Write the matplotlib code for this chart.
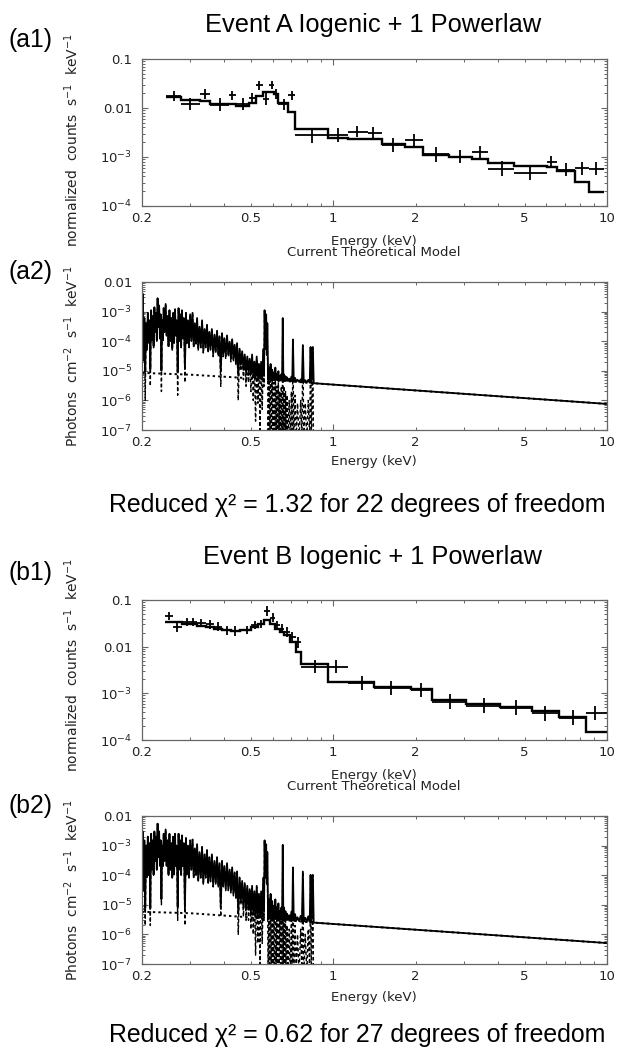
import numpy as np
import matplotlib
matplotlib.use("Agg")
import matplotlib.pyplot as plt
from matplotlib.ticker import FixedLocator, FixedFormatter, NullFormatter, LogLocator

W, H, DPI = 619, 1053, 100

# ---------------- Panel a1 : Event A folded counts ----------------
a1_edges = [0.245, 0.277, 0.325, 0.355, 0.415, 0.44, 0.49, 0.522, 0.552, 0.582,
            0.607, 0.630, 0.685, 0.725, 0.96, 1.133, 1.337, 1.50, 1.83, 2.126,
            2.64, 3.22, 3.68, 4.56, 6.04, 6.56, 7.62, 8.56, 9.77]
a1_energy = [0.261, 0.300, 0.339, 0.384, 0.427, 0.466, 0.506, 0.537, 0.567, 0.596,
             0.618, 0.658, 0.706, 0.835, 1.036, 1.222, 1.391, 1.658, 1.97, 2.37,
             2.91, 3.43, 4.12, 5.22, 6.25, 7.1, 8.1, 9.1]
a1_counts = [0.0175, 0.0121, 0.019, 0.0117, 0.018, 0.0122, 0.016, 0.0288, 0.0153, 0.0295,
             0.0194, 0.0118, 0.018, 0.00275, 0.00284, 0.00331, 0.00306, 0.00178, 0.00218, 0.00113,
             0.00102, 0.00128, 0.00058, 0.00048, 0.00078, 0.00055, 0.00059, 0.00058]
a1_err_dex = [0.11, 0.12, 0.10, 0.13, 0.10, 0.12, 0.10, 0.09, 0.12, 0.09,
              0.10, 0.12, 0.10, 0.15, 0.14, 0.12, 0.13, 0.14, 0.13, 0.15,
              0.14, 0.12, 0.15, 0.15, 0.12, 0.13, 0.13, 0.13]
a1_model = [0.0165, 0.0148, 0.0142, 0.0122, 0.0122, 0.0112, 0.0125, 0.0175, 0.021, 0.021,
            0.019, 0.0125, 0.0082, 0.0038, 0.0025, 0.00235, 0.00235, 0.0018, 0.0016, 0.00112,
            0.00101, 0.00092, 0.00076, 0.00066, 0.00062, 0.00052, 0.00031, 0.00019]

# ---------------- Panel b1 : Event B folded counts ----------------
b1_edges = [0.242, 0.260, 0.280, 0.300, 0.318, 0.342, 0.367, 0.393, 0.422, 0.458,
            0.499, 0.531, 0.560, 0.587, 0.612, 0.636, 0.663, 0.693, 0.728, 0.76,
            0.96, 1.133, 1.41, 1.92, 2.30, 3.06, 4.05, 5.3, 6.68, 8.4, 10.0]
b1_energy = [0.251, 0.269, 0.291, 0.308, 0.329, 0.355, 0.379, 0.408, 0.437, 0.482,
             0.516, 0.546, 0.574, 0.600, 0.624, 0.649, 0.678, 0.708, 0.745, 0.855,
             1.026, 1.273, 1.631, 2.09, 2.68, 3.55, 4.64, 5.94, 7.5, 9.05]
b1_counts = [0.046, 0.026, 0.034, 0.034, 0.032, 0.030, 0.027, 0.0225, 0.0217, 0.023,
             0.029, 0.031, 0.058, 0.042, 0.029, 0.0245, 0.0205, 0.016, 0.0124, 0.0037,
             0.0037, 0.0017, 0.00129, 0.00118, 0.00066, 0.00054, 0.00049, 0.00037, 0.0003, 0.00037]
b1_err_dex = [0.09, 0.10, 0.08, 0.08, 0.08, 0.09, 0.09, 0.10, 0.10, 0.09,
              0.09, 0.09, 0.10, 0.09, 0.09, 0.09, 0.10, 0.10, 0.12, 0.14,
              0.14, 0.15, 0.15, 0.14, 0.16, 0.16, 0.16, 0.16, 0.16, 0.15]
b1_model = [0.034, 0.033, 0.031, 0.030, 0.028, 0.026, 0.024, 0.0224, 0.022, 0.0224,
            0.026, 0.031, 0.038, 0.030, 0.024, 0.021, 0.0175, 0.0124, 0.0075, 0.0042,
            0.00174, 0.00174, 0.0014, 0.00125, 0.00072, 0.0006, 0.00051, 0.00041, 0.00031, 0.000148]

# ---------------- Panels a2 / b2 : theoretical model ----------------
# line-component vertices (energy keV)
forest_E = [
    0.2000, 0.2010, 0.2025, 0.2040, 0.2055, 0.2070, 0.2085, 0.2100,
    0.2115, 0.2130, 0.2145, 0.2160, 0.2175, 0.2190, 0.2205, 0.2220,
    0.2235, 0.2250, 0.2265, 0.2280, 0.2295, 0.2310, 0.2325, 0.2340,
    0.2355, 0.2370, 0.2385, 0.2400, 0.2420, 0.2440, 0.2460, 0.2480,
    0.2500, 0.2520, 0.2540, 0.2560, 0.2580, 0.2600, 0.2620, 0.2640,
    0.2660, 0.2680, 0.2700, 0.2720, 0.2740, 0.2760, 0.2780, 0.2800,
    0.2820, 0.2845, 0.2870, 0.2895, 0.2920, 0.2945, 0.2970, 0.3000,
    0.3030, 0.3060, 0.3090, 0.3120, 0.3150, 0.3180, 0.3210, 0.3245,
    0.3280, 0.3315, 0.3350, 0.3385, 0.3420, 0.3455, 0.3490, 0.3525,
    0.3560, 0.3600, 0.3640, 0.3680, 0.3720, 0.3760, 0.3800, 0.3840,
    0.3880, 0.3920, 0.3960, 0.4000, 0.4045, 0.4090, 0.4135, 0.4180,
    0.4225, 0.4270, 0.4315, 0.4360, 0.4405, 0.4450, 0.4495, 0.4545,
    0.4595, 0.4645, 0.4695, 0.4745, 0.4800, 0.4850, 0.4900, 0.4950,
    0.5000, 0.5050, 0.5100, 0.5150, 0.5200, 0.5250, 0.5300, 0.5350,
    0.5400, 0.5450, 0.5500, 0.5560, 0.5585, 0.5610, 0.5640, 0.5685,
    0.5715, 0.5740, 0.5780, 0.5820, 0.5860, 0.5900, 0.5940, 0.5980,
    0.6020, 0.6060, 0.6100, 0.6140, 0.6180, 0.6220, 0.6260, 0.6300,
    0.6340, 0.6380, 0.6420, 0.6460, 0.6500, 0.6535, 0.6570, 0.6610,
    0.6650, 0.6690, 0.6730, 0.6780, 0.6830, 0.6900, 0.6960, 0.7030,
    0.7080, 0.7120, 0.7170, 0.7250, 0.7320, 0.7400, 0.7500, 0.7600,
    0.7680, 0.7740, 0.7800, 0.7900, 0.8000, 0.8100, 0.8200, 0.8260,
    0.8320, 0.8420, 0.8480, 10.0]
a2_lines = [
    3e-5, 4e-3, 2e-5, 6e-4, 1e-6, 4e-4, 5e-5, 9e-4,
    8e-5, 5e-4, 3e-6, 1.1e-3, 1e-4, 7e-4, 6e-5, 1.4e-3,
    2e-4, 9e-4, 1e-4, 2.8e-3, 3e-4, 1.6e-3, 1.2e-4, 8e-4,
    2e-6, 5e-4, 1e-4, 1.3e-3, 2e-4, 1.8e-3, 1.5e-4, 7e-4,
    6e-5, 1.1e-3, 1e-4, 6e-4, 5e-5, 9e-4, 8e-5, 1.2e-3,
    1.5e-4, 5e-4, 1.5e-6, 1.3e-3, 1e-4, 8e-4, 6e-5, 1.1e-3,
    1.2e-4, 6e-4, 4e-6, 9e-4, 8e-5, 5e-4, 6e-5, 8e-4,
    1e-4, 9e-4, 6e-5, 4e-4, 8e-5, 6e-4, 5e-5, 3e-4,
    6e-5, 5e-4, 4e-5, 2.5e-4, 6e-5, 3.5e-4, 4e-5, 2e-4,
    5e-5, 2.5e-4, 3e-5, 1.6e-4, 4e-5, 2.2e-4, 3e-5, 1.4e-4,
    3e-6, 1.8e-4, 3e-5, 1.2e-4, 2.5e-5, 1.5e-4, 3e-5, 9e-5,
    2e-5, 1.1e-4, 2e-5, 7e-5, 1.5e-5, 8e-5, 1e-6, 5e-5,
    1e-5, 4e-5, 5e-6, 3e-5, 3e-6, 2.5e-5, 4e-6, 2e-5,
    2e-6, 3e-5, 1e-6, 1.5e-5, 2e-7, 2.5e-5, 8e-7, 1.2e-5,
    1e-7, 1.5e-5, 5e-7, 5e-5, 3e-6, 1.1e-3, 5e-5, 8e-4,
    3e-5, 4e-4, 5e-8, 8e-6, 1e-7, 1.2e-5, 5e-8, 6e-6,
    1e-7, 4e-6, 5e-8, 8e-6, 1e-7, 3e-6, 5e-8, 5e-6,
    5e-8, 2e-6, 5e-8, 3e-6, 5e-8, 6e-4, 5e-8, 3e-6,
    5e-8, 2e-6, 5e-8, 1.5e-6, 5e-8, 1e-6, 5e-8, 2e-6,
    5e-8, 1.1e-4, 5e-8, 1.5e-6, 5e-8, 8e-7, 5e-8, 1e-6,
    5e-8, 7e-5, 5e-8, 8e-7, 5e-8, 1e-6, 5e-8, 6e-5,
    5e-8, 6e-5, 1e-9, 1e-10]
b2_lines = [
    4e-5, 3e-3, 3e-5, 1.5e-3, 2e-6, 1e-3, 8e-5, 2e-3,
    1e-4, 1.2e-3, 2e-6, 2.5e-3, 1.5e-4, 1.5e-3, 1e-4, 3e-3,
    3e-4, 2e-3, 1.5e-4, 5.5e-3, 4e-4, 3e-3, 2e-4, 1.5e-3,
    1e-5, 1e-3, 2e-4, 2.5e-3, 3e-4, 3.5e-3, 2e-4, 1.5e-3,
    1e-4, 2.5e-3, 1.5e-4, 1.2e-3, 8e-5, 2e-3, 1e-4, 2.5e-3,
    2e-4, 1e-3, 3e-6, 2.5e-3, 1.5e-4, 1.5e-3, 1e-4, 2.2e-3,
    2e-4, 1.2e-3, 2e-6, 1.8e-3, 1e-4, 1e-3, 8e-5, 1.5e-3,
    1.5e-4, 1.6e-3, 8e-5, 8e-4, 1e-4, 1.1e-3, 6e-5, 6e-4,
    8e-5, 9e-4, 5e-5, 5e-4, 8e-5, 7e-4, 5e-5, 4e-4,
    6e-5, 5e-4, 4e-5, 3e-4, 5e-5, 4e-4, 4e-5, 2.5e-4,
    4e-6, 3e-4, 4e-5, 2e-4, 3e-5, 2.5e-4, 3e-5, 1.5e-4,
    2.5e-5, 1.8e-4, 2e-5, 1.2e-4, 1.5e-5, 1.3e-4, 1e-6, 8e-5,
    1e-5, 6e-5, 4e-6, 5e-5, 3e-6, 4e-5, 3e-6, 3e-5,
    1.5e-6, 4e-5, 1e-6, 2.5e-5, 2e-7, 4e-5, 5e-7, 2e-5,
    1e-7, 2.5e-5, 5e-7, 8e-5, 3e-6, 1.5e-3, 8e-5, 1.1e-3,
    5e-5, 6e-4, 5e-8, 1.2e-5, 1e-7, 2e-5, 5e-8, 1e-5,
    1e-7, 6e-6, 5e-8, 1.2e-5, 1e-7, 5e-6, 5e-8, 8e-6,
    5e-8, 3e-6, 5e-8, 5e-6, 5e-8, 1.05e-3, 5e-8, 5e-6,
    5e-8, 3e-6, 5e-8, 2e-6, 5e-8, 1.5e-6, 5e-8, 3e-6,
    5e-8, 1.8e-4, 5e-8, 2e-6, 5e-8, 1e-6, 5e-8, 1.5e-6,
    5e-8, 1.3e-4, 5e-8, 1e-6, 5e-8, 1.5e-6, 5e-8, 1e-4,
    5e-8, 1e-4, 1e-9, 1e-10]
# power-law continuum (dotted) read at a few energies
cont_E = [0.2, 0.3, 0.45, 0.6, 0.85, 1.0, 10.0]
a2_cont = [8.5e-6, 7.4e-6, 5.9e-6, 4.9e-6, 3.8e-6, 3.4e-6, 7.6e-7]
b2_cont = [5.8e-6, 5.2e-6, 4.0e-6, 3.3e-6, 2.5e-6, 2.25e-6, 5.1e-7]

x_minor = [0.2, 0.3, 0.4, 0.5, 0.6, 0.7, 0.8, 0.9, 2, 3, 4, 5, 6, 7, 8, 9]
x_minor_labels = ['0.2', '', '', '0.5', '', '', '', '', '2', '', '', '5', '', '', '', '']
x_major = [1, 10]
x_major_labels = ['1', '10']
counts_yticks = [1e-4, 1e-3, 1e-2, 1e-1]
counts_ylabels = [r'$10^{-4}$', r'$10^{-3}$', '0.01', '0.1']
model_yticks = [1e-7, 1e-6, 1e-5, 1e-4, 1e-3, 1e-2]
model_ylabels = [r'$10^{-7}$', r'$10^{-6}$', r'$10^{-5}$', r'$10^{-4}$', r'$10^{-3}$', '0.01']

# ---------------- figure ----------------
fig = plt.figure(figsize=(W / DPI, H / DPI), dpi=DPI)
fig.patch.set_facecolor('white')

AX_L, AX_R = 142, 607
FRAME = '#666666'
TXT = '#222222'
INNER = dict(family='DejaVu Sans', color=TXT)
MAIN = dict(family=['Liberation Sans', 'DejaVu Sans'], color='black')


def make_axes(top, bottom):
    return fig.add_axes([AX_L / W, 1 - bottom / H, (AX_R - AX_L) / W, (bottom - top) / H])


def style(ax, ylim, yticks, ylabels):
    ax.set_xscale('log')
    ax.set_yscale('log')
    ax.set_xlim(0.2, 10)
    ax.set_ylim(*ylim)
    ax.xaxis.set_major_locator(FixedLocator(x_major))
    ax.xaxis.set_major_formatter(FixedFormatter(x_major_labels))
    ax.xaxis.set_minor_locator(FixedLocator(x_minor))
    ax.xaxis.set_minor_formatter(FixedFormatter(x_minor_labels))
    ax.yaxis.set_major_locator(FixedLocator(yticks))
    ax.yaxis.set_major_formatter(FixedFormatter(ylabels))
    ax.yaxis.set_minor_locator(LogLocator(base=10, subs=np.arange(2, 10), numticks=20))
    ax.yaxis.set_minor_formatter(NullFormatter())
    ax.tick_params(which='both', direction='in', top=True, right=True,
                   color=FRAME, labelcolor=TXT, labelsize=9.5)
    ax.tick_params(which='major', length=4.5, width=0.8)
    ax.tick_params(which='minor', length=2.3, width=0.7)
    ax.tick_params(axis='x', which='both', pad=4)
    ax.tick_params(axis='y', which='both', pad=7)
    for lab in ax.get_xticklabels(which='both') + ax.get_yticklabels():
        lab.set_family('DejaVu Sans')
    for s in ax.spines.values():
        s.set_color(FRAME)
        s.set_linewidth(0.9)


def counts_panel(top, bottom, edges, energy, counts, err, model):
    ax = make_axes(top, bottom)
    edges = np.asarray(edges)
    energy = np.asarray(energy)
    counts = np.asarray(counts)
    err = np.asarray(err)
    ax.stairs(model, edges, baseline=None, color='black', lw=1.7)
    xlo = energy - edges[:-1]
    xhi = edges[1:] - energy
    ylo = counts - counts * 10 ** (-err)
    yhi = counts * 10 ** err - counts
    ax.errorbar(energy, counts, xerr=[xlo, xhi], yerr=[ylo, yhi], fmt='none',
                ecolor='black', elinewidth=1.3, capsize=0)
    style(ax, (1e-4, 0.1), counts_yticks, counts_ylabels)
    return ax


def model_panel(top, bottom, lines, cont):
    ax = make_axes(top, bottom)
    E = np.asarray(forest_E)
    L = np.asarray(lines)
    C = 10 ** np.interp(np.log10(E), np.log10(cont_E), np.log10(cont))
    ax.plot(cont_E, cont, color='black', lw=1.4, ls=(0, (1.2, 1.6)))
    ax.plot(E, L, color='black', lw=1.0, ls=(0, (2.5, 1.8)))
    ax.plot(E, L + C, color='black', lw=1.3)
    style(ax, (1e-7, 1e-2), model_yticks, model_ylabels)
    return ax


def ftext(x, y, s, **kw):
    fig.text(x / W, 1 - y / H, s, **kw)


# Event A
counts_panel(59, 206, a1_edges, a1_energy, a1_counts, a1_err_dex, a1_model)
model_panel(282, 430, a2_lines, a2_cont)
# Event B
counts_panel(600, 740, b1_edges, b1_energy, b1_counts, b1_err_dex, b1_model)
model_panel(816, 964, b2_lines, b2_cont)

ylab_counts = 'normalized  counts  s$^{-1}$  keV$^{-1}$'
ylab_model = 'Photons  cm$^{-2}$  s$^{-1}$  keV$^{-1}$'
for yc, lab in [(140, ylab_counts), (356, ylab_model), (665, ylab_counts), (890, ylab_model)]:
    ftext(72, yc, lab, rotation=90, ha='center', va='center', fontsize=10, **INNER)

for yy in [241, 461, 775, 997]:
    ftext(374, yy, 'Energy (keV)', ha='center', va='center', fontsize=9.5, **INNER)
for yy in [252, 786]:
    ftext(374, yy, 'Current Theoretical Model', ha='center', va='center', fontsize=9.5, **INNER)

ftext(373, 25, 'Event A Iogenic + 1 Powerlaw', ha='center', va='center', fontsize=18.3, **MAIN)
ftext(373, 557, 'Event B Iogenic + 1 Powerlaw', ha='center', va='center', fontsize=18.3, **MAIN)
for yy, lab in [(40, '(a1)'), (272, '(a2)'), (573, '(b1)'), (806, '(b2)')]:
    ftext(9, yy, lab, ha='left', va='center', fontsize=17.8, **MAIN)
ftext(357, 505, 'Reduced \u03c7\u00b2 = 1.32 for 22 degrees of freedom', ha='center', va='center',
      fontsize=17.9, **MAIN)
ftext(357, 1035, 'Reduced \u03c7\u00b2 = 0.62 for 27 degrees of freedom', ha='center', va='center',
      fontsize=17.9, **MAIN)

fig.savefig('out.png', dpi=DPI)
